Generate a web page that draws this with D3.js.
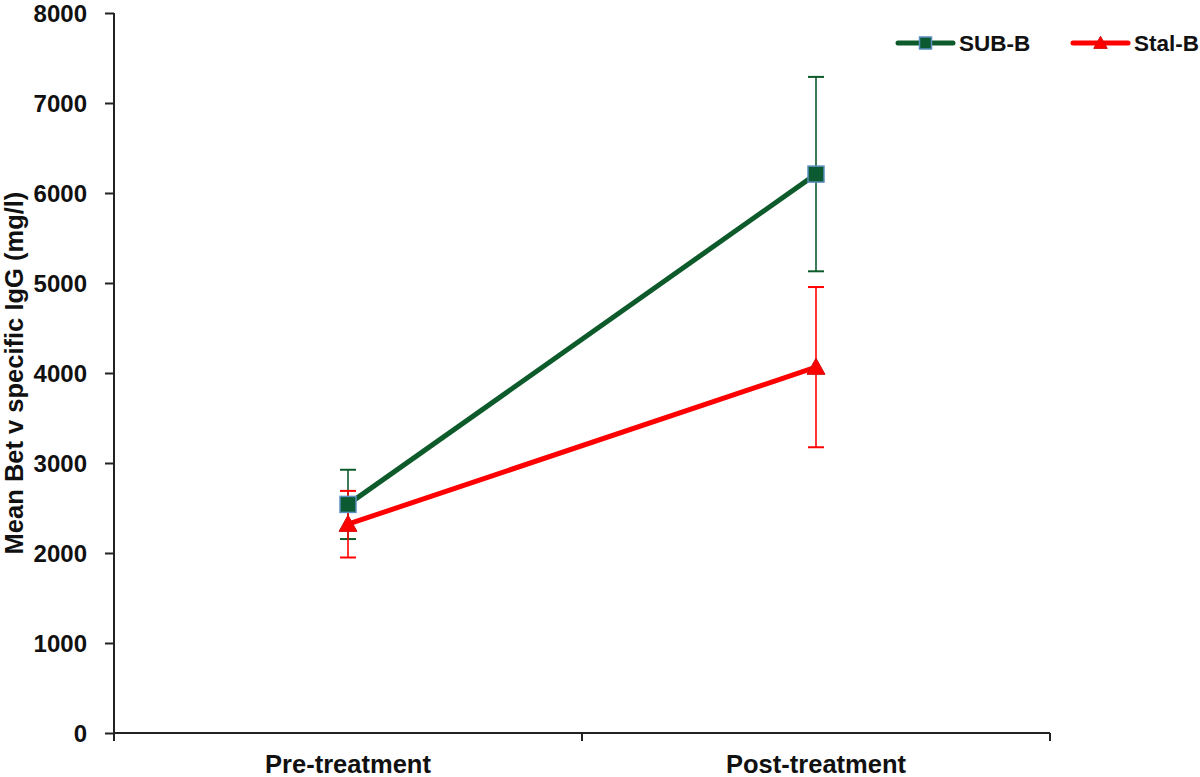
<!DOCTYPE html>
<html><head><meta charset="utf-8">
<script src="https://cdn.jsdelivr.net/npm/d3@7"></script>
<style>body{margin:0;background:#fff}svg{display:block}text{font-family:"Liberation Sans",Arial,sans-serif;font-weight:bold}</style>
</head><body>
<svg id="c" width="1200" height="777"></svg>
<script>
const categories = ["Pre-treatment", "Post-treatment"];
const seriesNames = ["SUB-B", "Stal-B"];
const subB = [2540, 6210];
const subBErr = [385, 1080];
const stalB = [2320, 4065];
const stalBErr = [370, 890];
const yTicks = [0, 1000, 2000, 3000, 4000, 5000, 6000, 7000, 8000];

const svg = d3.select("#c");
const x = d3.scaleBand().domain(categories).range([114, 1050]).padding(0);
const y = d3.scaleLinear().domain([0, 8000]).range([733, 13]);

// Y axis
const ya = svg.append("g").attr("transform", "translate(114,0)")
  .call(d3.axisLeft(y).tickValues(yTicks).tickSize(9).tickPadding(18).tickFormat(d3.format("d")));
ya.select(".domain").attr("stroke", "#222").attr("stroke-width", 2).attr("d", `M0,${y(8000)}V${y(0)}`);
ya.selectAll(".tick line").attr("stroke", "#222").attr("stroke-width", 2);
ya.selectAll(".tick text").attr("font-size", 24).attr("fill", "#111").attr("dy", "0.36em")
  .style("font-family", "Liberation Sans, Arial, sans-serif").style("font-weight", "bold");

// X axis
const xa = svg.append("g").attr("transform", `translate(0,${y(0)})`)
  .call(d3.axisBottom(x).tickSize(0));
xa.select(".domain").attr("stroke", "#222").attr("stroke-width", 2).attr("d", "M114,0H1050");
xa.selectAll(".tick text").attr("font-size", 25.5).attr("fill", "#111").attr("dy", null).attr("y", 40)
  .style("font-family", "Liberation Sans, Arial, sans-serif").style("font-weight", "bold");
// boundary ticks between categories
const bounds = [x(categories[0]), x(categories[1]), x(categories[1]) + x.bandwidth()];
svg.append("g").selectAll("line").data(bounds).join("line")
  .attr("x1", d => d).attr("x2", d => d).attr("y1", y(0)).attr("y2", y(0) + 8)
  .attr("stroke", "#222").attr("stroke-width", 2);

// Y title
svg.append("text").attr("transform", `translate(23,373) rotate(-90)`)
  .attr("text-anchor", "middle").attr("font-size", 25.5).attr("fill", "#111")
  .text("Mean Bet v specific IgG (mg/l)");

const cx = c => x(c) + x.bandwidth() / 2;
const series = [
  {name: seriesNames[0], vals: subB, err: subBErr, color: "#0d5a2b", marker: "square"},
  {name: seriesNames[1], vals: stalB, err: stalBErr, color: "#ff0000", marker: "tri"}
];

// error bars
series.forEach(s => {
  const g = svg.append("g");
  categories.forEach((c, i) => {
    const hi = y(s.vals[i] + s.err[i]), lo = y(s.vals[i] - s.err[i]), xx = cx(c);
    g.append("line").attr("x1", xx).attr("x2", xx).attr("y1", hi).attr("y2", lo).attr("stroke", s.color).attr("stroke-width", 1.6);
    [hi, lo].forEach(v => g.append("line").attr("x1", xx - 8).attr("x2", xx + 8).attr("y1", v).attr("y2", v).attr("stroke", s.color).attr("stroke-width", 2));
  });
});

// lines
const line = d3.line().x((d, i) => cx(categories[i])).y(d => y(d));
series.forEach(s => {
  svg.append("path").datum(s.vals).attr("d", line).attr("fill", "none").attr("stroke", s.color).attr("stroke-width", 5);
});

function drawMarker(g, type, px, py, scale) {
  scale = scale || 1;
  if (type === "square") {
    const h = 8 * scale;
    g.append("rect").attr("x", px - h).attr("y", py - h).attr("width", 2 * h).attr("height", 2 * h)
      .attr("fill", "#0b5a31").attr("stroke", "#5b8fc0").attr("stroke-width", 1.5);
  } else {
    const h = 9 * scale;
    g.append("path").attr("d", `M${px},${py - h}L${px + h},${py + h * 0.8}L${px - h},${py + h * 0.8}Z`)
      .attr("fill", "#ff0000").attr("stroke", "#d01010").attr("stroke-width", 1);
  }
}
series.forEach(s => {
  const g = svg.append("g");
  categories.forEach((c, i) => drawMarker(g, s.marker, cx(c), y(s.vals[i])));
});

// legend
const legX = [898, 1073];
series.forEach((s, i) => {
  const g = svg.append("g");
  const lx = legX[i], ly = 43;
  g.append("line").attr("x1", lx).attr("x2", lx + 55).attr("y1", ly).attr("y2", ly).attr("stroke", s.color).attr("stroke-width", 5).attr("stroke-linecap", "round");
  drawMarker(g, s.marker, lx + 27.5, ly, 0.75);
  g.append("text").attr("x", lx + 61).attr("y", ly).attr("dy", "0.36em").attr("font-size", 22.5).attr("fill", "#111").text(s.name);
});
</script>
</body></html>
